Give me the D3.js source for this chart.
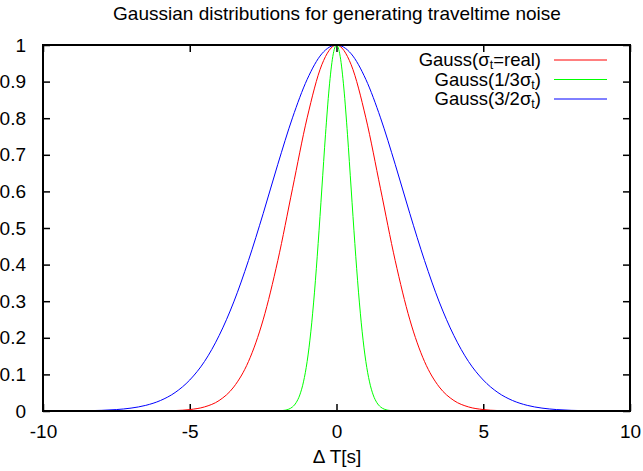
<!DOCTYPE html>
<html><head><meta charset="utf-8">
<script src="https://cdn.jsdelivr.net/npm/d3@7"></script>
<style>body{margin:0;background:#fff}svg{display:block}text{font-family:"Liberation Sans",Arial,sans-serif;fill:#000}</style>
</head><body><svg id="c" width="643" height="471"></svg>
<script>
// x samples for the wide curves
const xWide = [-10,-9.5,-9,-8.5,-8,-7.5,-7,-6.5,-6,-5.5,-5,-4.5,-4,-3.5,-3,-2.5,-2,-1.5,-1,-0.5,0,0.5,1,1.5,2,2.5,3,3.5,4,4.5,5,5.5,6,6.5,7,7.5,8,8.5,9,9.5,10];
// Gauss(sigma_t = real)  (red)
const yReal = [0,0,0,0,0,0,0,0.0001,0.0003,0.0012,0.0039,0.0111,0.0286,0.0657,0.135,0.249,0.411,0.607,0.801,0.946,1,0.946,0.801,0.607,0.411,0.249,0.135,0.0657,0.0286,0.0111,0.0039,0.0012,0.0003,0.0001,0,0,0,0,0,0,0];
// Gauss(3/2 sigma_t)  (blue)
const yWide = [0.00005,0.00013,0.0003,0.0008,0.0018,0.0039,0.0079,0.0154,0.0286,0.0504,0.0847,0.135,0.206,0.298,0.411,0.539,0.674,0.801,0.906,0.976,1,0.976,0.906,0.801,0.674,0.539,0.411,0.298,0.206,0.135,0.0847,0.0504,0.0286,0.0154,0.0079,0.0039,0.0018,0.0008,0.0003,0.00013,0.00005];
// Gauss(1/3 sigma_t)  (green)
const xNarrow = [-10,-3,-2.25,-2,-1.875,-1.75,-1.625,-1.5,-1.375,-1.25,-1.125,-1,-0.875,-0.75,-0.625,-0.5,-0.375,-0.25,-0.125,0,0.125,0.25,0.375,0.5,0.625,0.75,0.875,1,1.125,1.25,1.375,1.5,1.625,1.75,1.875,2,2.25,3,10];
const yNarrow = [0,0,0.00004,0.0003,0.0009,0.0022,0.0051,0.0111,0.0228,0.0439,0.0796,0.1353,0.2163,0.3247,0.4578,0.6065,0.7548,0.8825,0.969,1,0.969,0.8825,0.7548,0.6065,0.4578,0.3247,0.2163,0.1353,0.0796,0.0439,0.0228,0.0111,0.0051,0.0022,0.0009,0.0003,0.00004,0,0];

const xTicks = [-10,-5,0,5,10];
const yTicks = [0,0.1,0.2,0.3,0.4,0.5,0.6,0.7,0.8,0.9,1];
const seriesColors = ["#ff0000","#00ff00","#0000ff"];

const FS = "19px";
const svg = d3.select("#c");
const L=43, R=630, T=45, B=411;
const x = d3.scaleLinear().domain([-10,10]).range([L,R]);
const y = d3.scaleLinear().domain([0,1]).range([B,T]);

svg.append("text").attr("x",337).attr("y",20).attr("text-anchor","middle").style("font-size",FS)
  .text("Gaussian distributions for generating traveltime noise");

const fmt = d => d===0?"0":d===1?"1":d3.format(".1f")(d);
const fmtX = d => (d<0?"-":"")+Math.abs(d);
const gB = svg.append("g").attr("transform",`translate(0,${B})`).call(d3.axisBottom(x).tickValues(xTicks).tickSize(-7).tickPadding(14).tickFormat(fmtX));
const gT = svg.append("g").attr("transform",`translate(0,${T})`).call(d3.axisTop(x).tickValues(xTicks).tickSize(-7).tickFormat(""));
const gL = svg.append("g").attr("transform",`translate(${L},0)`).call(d3.axisLeft(y).tickValues(yTicks).tickSize(-7).tickPadding(17).tickFormat(fmt));
const gR = svg.append("g").attr("transform",`translate(${R},0)`).call(d3.axisRight(y).tickValues(yTicks).tickSize(-7).tickFormat(""));
[gB,gT,gL,gR].forEach(g=>{g.select(".domain").remove();g.selectAll("line").attr("stroke","#000").attr("stroke-width",1.5);g.selectAll("text").style("font-size",FS).attr("font-family",null);});

const line = d3.line().x(d=>x(d[0])).y(d=>y(d[1])).curve(d3.curveMonotoneX);
svg.append("clipPath").attr("id","pc").append("rect").attr("x",L).attr("y",T-2).attr("width",R-L).attr("height",B-T+2);
const series = [d3.zip(xWide,yReal), d3.zip(xNarrow,yNarrow), d3.zip(xWide,yWide)];
series.forEach((s,i)=>{
  svg.append("path").attr("d",line(s)).attr("fill","none").attr("stroke",seriesColors[i]).attr("stroke-width",1).attr("clip-path","url(#pc)");
});

svg.append("rect").attr("x",L).attr("y",T).attr("width",R-L).attr("height",B-T).attr("fill","none").attr("stroke","#000").attr("stroke-width",2);

// legend
const leg = [["Gauss(","σ","t","=real)"],["Gauss(1/3","σ","t",")"],["Gauss(3/2","σ","t",")"]];
leg.forEach((p,i)=>{
  const yy = 60 + i*19.5;
  const t = svg.append("text").attr("x",541).attr("y",yy+6).attr("text-anchor","end").style("font-size","18.5px");
  t.append("tspan").text(p[0]);
  t.append("tspan").text(p[1]);
  t.append("tspan").attr("dy",3).style("font-size","12.5px").text(p[2]);
  t.append("tspan").attr("dy",-3).text(p[3]);
  svg.append("line").attr("x1",554).attr("x2",607).attr("y1",yy).attr("y2",yy).attr("stroke",seriesColors[i]).attr("stroke-width",1);
});

svg.append("text").attr("x",337).attr("y",463).attr("text-anchor","middle").style("font-size",FS).text("Δ T[s]");
</script></body></html>
